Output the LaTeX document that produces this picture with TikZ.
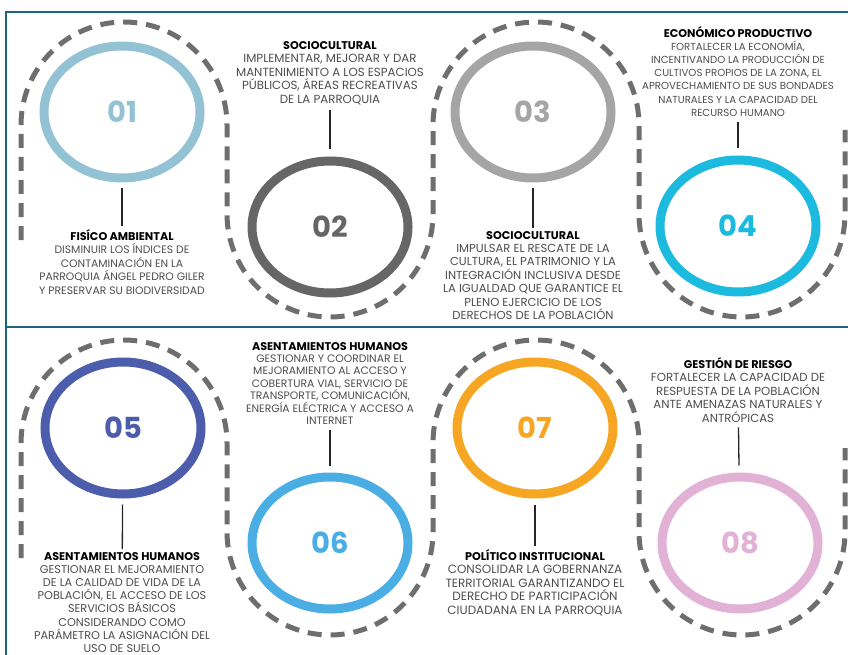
\documentclass[tikz,border=0pt]{standalone}
\usepackage{fontspec}
\setmainfont{Poppins}
\usepackage{tikz}
\usetikzlibrary{shapes.geometric,positioning}
\definecolor{ejFrame}{HTML}{1C6480}
\definecolor{ejDash}{HTML}{6E6E6E}
\definecolor{ejInk}{HTML}{4D4D4D}
\definecolor{ejUno}{HTML}{92C2D3}
\definecolor{ejDos}{HTML}{666666}
\definecolor{ejTres}{HTML}{A5A5A5}
\definecolor{ejCuatro}{HTML}{1DBADF}
\definecolor{ejCinco}{HTML}{4B5DAB}
\definecolor{ejSeis}{HTML}{4AADE3}
\definecolor{ejSiete}{HTML}{F6A623}
\definecolor{ejOcho}{HTML}{E2B1D6}
\newcommand{\gtitle}[1]{{\color{black}\fontsize{11.2}{13.6}\selectfont\bfseries #1}}
\tikzset{
  ring/.style={ellipse,line width=9pt,minimum width=156pt,minimum height=132pt,
    inner sep=0pt,font=\fontsize{29}{30}\selectfont\bfseries},
  goal/.style={align=center,anchor=north,inner sep=0pt,text=ejInk,
    font=\fontsize{#1}{13.6}\selectfont},
  goal/.default=10.8,
  trail/.style={draw=ejDash,line width=5pt,dash pattern=on 14pt off 9pt},
  conn/.style={draw=black!85,line width=1.3pt},
  frame/.style={draw=ejFrame,line width=2.5pt},
}
\begin{document}
\begin{tikzpicture}[x=1pt,y=-1pt]
  \useasboundingbox (0,0) rectangle (848,655);
  \clip (0,0) rectangle (848,655);
  \draw[frame] (6,12) rectangle (862,670);
  \draw[frame] (6,327) -- (862,327);

  % dashed trails
  \draw[trail] (21,240) -- (21,125) arc[start angle=180,end angle=360,radius=103]
    -- (227,214) arc[start angle=180,end angle=0,radius=103]
    -- (433,125) arc[start angle=180,end angle=360,radius=103]
    -- (639,214) arc[start angle=180,end angle=0,radius=103] -- (845,130);
  \draw[trail] (21,558) -- (21,443) arc[start angle=180,end angle=360,radius=103]
    -- (227,532) arc[start angle=180,end angle=0,radius=103]
    -- (433,443) arc[start angle=180,end angle=360,radius=103]
    -- (639,532) arc[start angle=180,end angle=0,radius=103] -- (845,448);

  % rings
  \node[ring,draw=ejUno,text=ejUno] (r01) at (122,112) {01};
  \node[ring,draw=ejDos,text=ejDos] (r02) at (330,227) {02};
  \node[ring,draw=ejTres,text=ejTres] (r03) at (533,112) {03};
  \node[ring,draw=ejCuatro,text=ejCuatro] (r04) at (738,226) {04};
  \node[ring,draw=ejCinco,text=ejCinco] (r05) at (123,428) {05};
  \node[ring,draw=ejSeis,text=ejSeis] (r06) at (330,543) {06};
  \node[ring,draw=ejSiete,text=ejSiete] (r07) at (535,428) {07};
  \node[ring,draw=ejOcho,text=ejOcho] (r08) at (740,543) {08};

  % texts
  \node[goal] (t01) at (122,229) {\gtitle{FISÍCO AMBIENTAL}\\DISMINUIR LOS ÍNDICES DE\\
    CONTAMINACIÓN EN LA\\PARROQUIA ÁNGEL PEDRO GILER\\Y PRESERVAR SU BIODIVERSIDAD};
  \node[goal=11.8] (t02) at (330,41) {\gtitle{SOCIOCULTURAL}\\IMPLEMENTAR, MEJORAR Y DAR\\
    MANTENIMIENTO A LOS ESPACIOS\\PÚBLICOS, ÁREAS RECREATIVAS\\DE LA PARROQUIA};
  \node[goal,font=\fontsize{11.6}{13.4}\selectfont] (t03) at (533,231)
    {\gtitle{SOCIOCULTURAL}\\IMPULSAR EL RESCATE DE LA\\
    CULTURA, EL PATRIMONIO Y LA\\INTEGRACIÓN INCLUSIVA DESDE\\
    LA IGUALDAD QUE GARANTICE EL\\PLENO EJERCICIO DE LOS\\DERECHOS DE LA POBLACIÓN};
  \node[goal,font=\fontsize{10.2}{13.2}\selectfont] (t04) at (738,26)
    {\gtitle{ECONÓMICO PRODUCTIVO}\\FORTALECER LA ECONOMÍA,\\
    INCENTIVANDO LA PRODUCCIÓN DE\\CULTIVOS PROPIOS DE LA ZONA, EL\\
    APROVECHAMIENTO DE SUS BONDADES\\NATURALES Y LA CAPACIDAD DEL\\RECURSO HUMANO};
  \node[goal,font=\fontsize{11.3}{13.2}\selectfont] (t05) at (122,552)
    {\gtitle{ASENTAMIENTOS HUMANOS}\\GESTIONAR EL MEJORAMIENTO\\
    DE LA CALIDAD DE VIDA DE LA\\POBLACIÓN, EL ACCESO DE LOS\\SERVICIOS BÁSICOS\\
    CONSIDERANDO COMO\\PARÁMETRO LA ASIGNACIÓN DEL\\USO DE SUELO};
  \node[goal,font=\fontsize{10.8}{12.4}\selectfont] (t06) at (330,342)
    {\gtitle{ASENTAMIENTOS HUMANOS}\\GESTIONAR Y COORDINAR EL\\
    MEJORAMIENTO AL ACCESO Y\\COBERTURA VIAL, SERVICIO DE\\TRANSPORTE, COMUNICACIÓN,\\
    ENERGÍA ELÉCTRICA Y ACCESO A\\INTERNET};
  \node[goal,font=\fontsize{12}{13.5}\selectfont] (t07) at (535,549)
    {\gtitle{POLÍTICO INSTITUCIONAL}\\CONSOLIDAR LA GOBERNANZA\\
    TERRITORIAL GARANTIZANDO EL\\DERECHO DE PARTICIPACIÓN\\CIUDADANA EN LA PARROQUIA};
  \node[goal,font=\fontsize{11.7}{13.5}\selectfont] (t08) at (738,357)
    {\gtitle{GESTIÓN DE RIESGO}\\FORTALECER LA CAPACIDAD DE\\
    RESPUESTA DE LA POBLACIÓN\\ANTE AMENAZAS NATURALES Y\\ANTRÓPICAS};

  % connectors
  \draw[conn,shorten <=6pt,shorten >=3pt] (r01) -- (t01);
  \draw[conn,shorten <=5pt,shorten >=7pt] (t02) -- (r02);
  \draw[conn,shorten <=6pt,shorten >=3pt] (r03) -- (t03);
  \draw[conn,shorten <=5pt,shorten >=7pt] (t04) -- (r04);
  \draw[conn,shorten <=6pt,shorten >=3pt] (r05) -- (t05);
  \draw[conn,shorten <=5pt,shorten >=7pt] (t06) -- (r06);
  \draw[conn,shorten <=6pt,shorten >=3pt] (r07) -- (t07);
  \draw[conn,shorten <=5pt,shorten >=7pt] (t08) -- (r08);
\end{tikzpicture}
\end{document}
